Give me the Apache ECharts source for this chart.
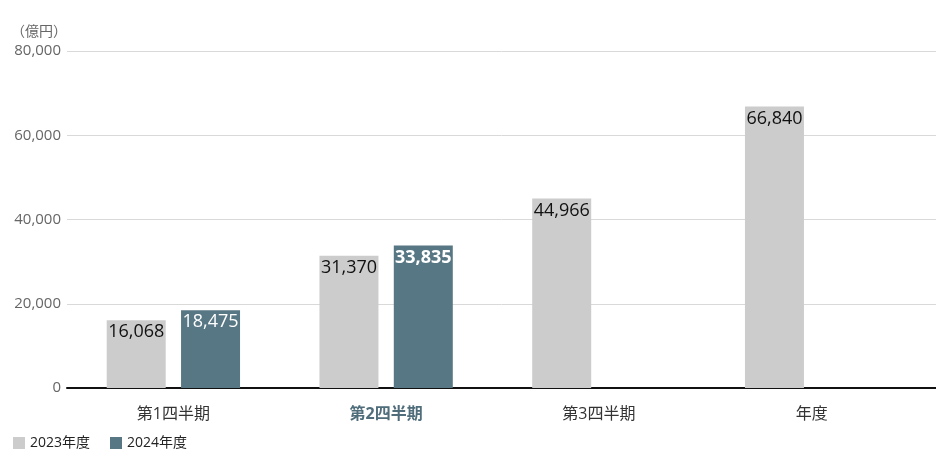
<!DOCTYPE html>
<html><head><meta charset="utf-8">
<script src="https://cdn.jsdelivr.net/npm/echarts@6/dist/echarts.min.js"></script>
<style>html,body{margin:0;padding:0;background:#fff}#c{width:936px;height:456px}</style>
</head><body><div id="c"></div>
<script>
const categories = ['第1四半期', '第2四半期', '第3四半期', '年度'];
const values2023 = [16068, 31370, 44966, 66840];
const values2024 = [18475, 33835, null, null];
const seriesNames = ['2023年度', '2024年度'];
const unitLabel = '（億円）';
const yMax = 80000, yStep = 20000;

const FONT = '"Open Sans", "Noto Sans CJK JP", sans-serif';
const chart = echarts.init(document.getElementById('c'));
const fmt = v => v.toLocaleString('en-US');

chart.setOption({
  animation: false,
  textStyle: { fontFamily: FONT },
  grid: [
    { left: 67, right: 0, top: 51, bottom: 68 },
    { left: 67, right: 18, top: 51, bottom: 68 }
  ],
  legend: {
    left: 8, bottom: 1, itemWidth: 12, itemHeight: 12, itemGap: 20,
    icon: 'rect',
    textStyle: { fontSize: 14, color: '#222', fontFamily: FONT },
    data: seriesNames
  },
  xAxis: [
    { gridIndex: 0, type: 'category', data: categories,
      axisLine: { show: true, lineStyle: { color: '#111', width: 2 } },
      axisTick: { show: false }, axisLabel: { show: false } },
    { gridIndex: 1, type: 'category', data: categories,
      axisLine: { show: false }, axisTick: { show: false },
      axisLabel: { margin: 18, fontSize: 16, color: '#333', fontFamily: FONT,
        formatter: (v, i) => i === 1 ? '{hl|' + v + '}' : v,
        rich: { hl: { fontSize: 16, color: '#4f6d7a', fontWeight: 'bold', fontFamily: FONT } } } }
  ],
  yAxis: [
    { gridIndex: 0, type: 'value', min: 0, max: yMax, interval: yStep,
      name: unitLabel, nameLocation: 'end', nameGap: 12,
      nameTextStyle: { align: 'right', color: '#666', fontSize: 14, padding: [0, 0, 0, 0], fontFamily: FONT },
      axisLine: { show: false }, axisTick: { show: false },
      axisLabel: { color: '#666', fontSize: 15, margin: 6, formatter: fmt, fontFamily: FONT },
      splitLine: { lineStyle: { color: '#d9d9d9', width: 1 } } },
    { gridIndex: 1, type: 'value', min: 0, max: yMax, interval: yStep,
      show: false, splitLine: { show: false } }
  ],
  series: [
    { name: seriesNames[0], type: 'bar', xAxisIndex: 1, yAxisIndex: 1,
      data: values2023, barWidth: 59, barGap: '26%',
      itemStyle: { color: '#cccccc' },
      label: { show: true, position: 'insideTop', distance: 3, color: '#111', fontSize: 18,
        fontFamily: FONT, formatter: p => fmt(p.value) } },
    { name: seriesNames[1], type: 'bar', xAxisIndex: 1, yAxisIndex: 1,
      data: values2024, barWidth: 59,
      itemStyle: { color: '#587784' },
      label: { show: true, position: 'insideTop', distance: 3, color: '#fff', fontSize: 18,
        fontFamily: FONT,
        formatter: p => p.dataIndex === 1 ? '{b|' + fmt(p.value) + '}' : fmt(p.value),
        rich: { b: { fontWeight: 'bold', fontSize: 18, color: '#fff', fontFamily: FONT } } } }
  ]
});
</script></body></html>
